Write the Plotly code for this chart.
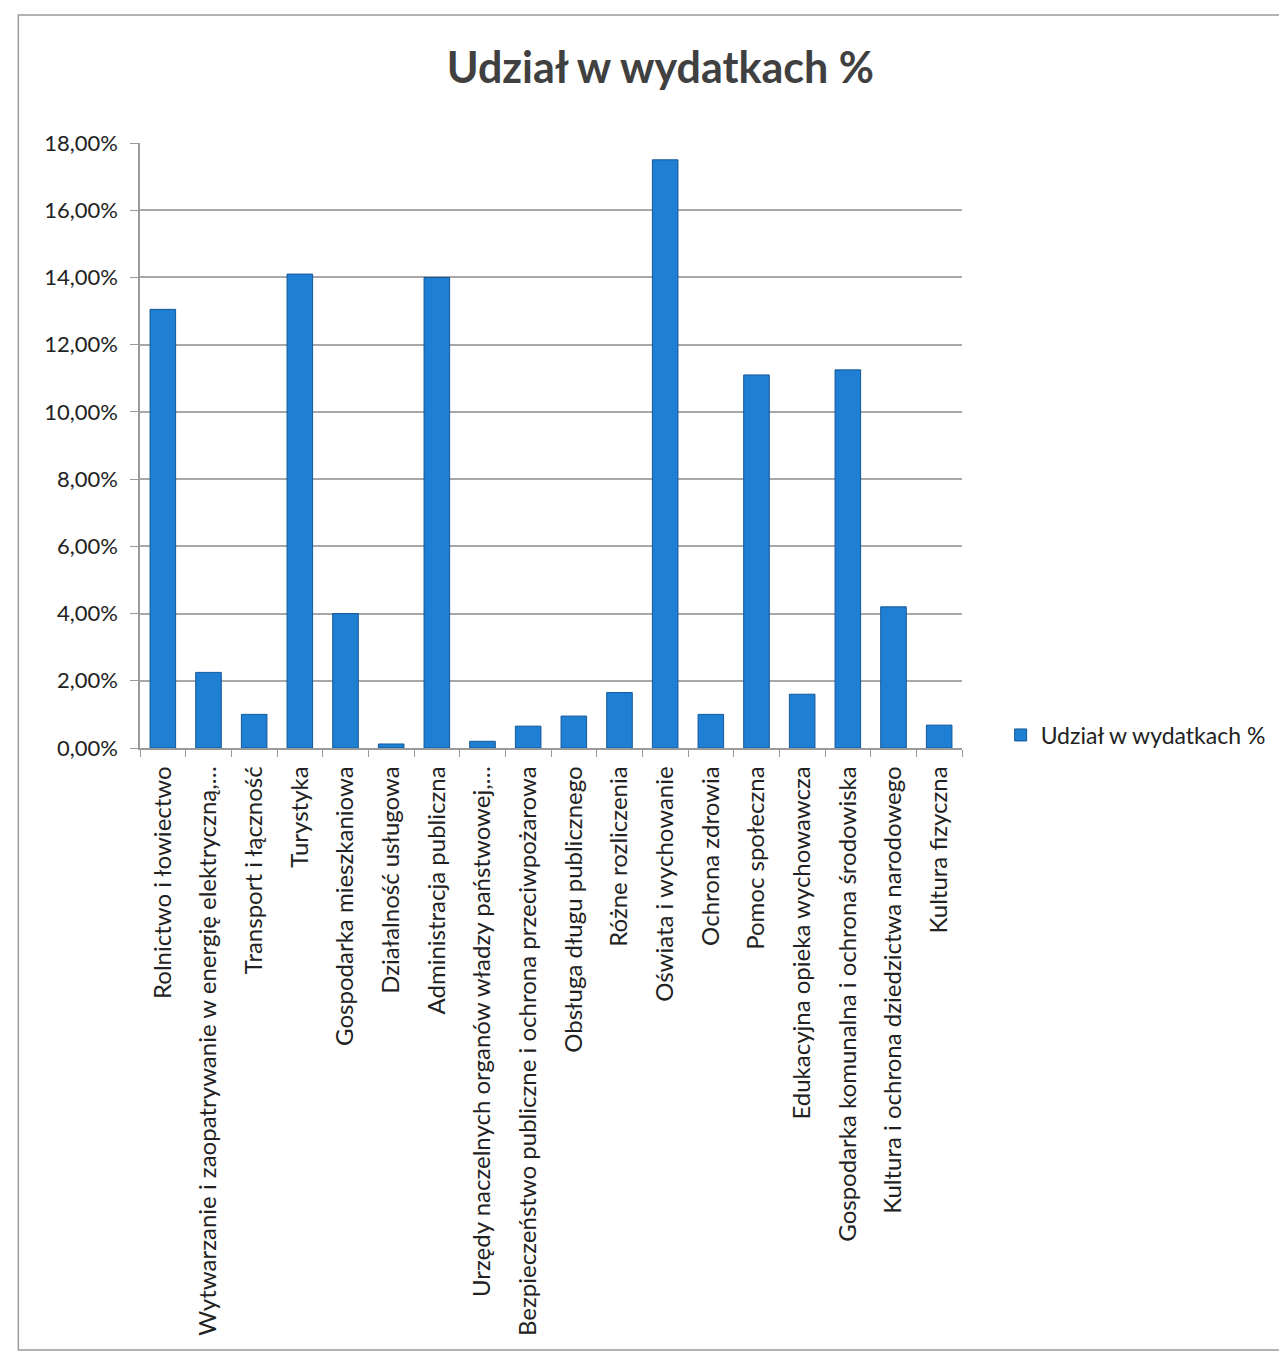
import plotly.graph_objects as go

categories = [
    "Rolnictwo i łowiectwo",
    "Wytwarzanie i zaopatrywanie w energię elektryczną,…",
    "Transport i łączność",
    "Turystyka",
    "Gospodarka mieszkaniowa",
    "Działalność usługowa",
    "Administracja publiczna",
    "Urzędy naczelnych organów władzy państwowej,…",
    "Bezpieczeństwo publiczne i ochrona przeciwpożarowa",
    "Obsługa długu publicznego",
    "Różne rozliczenia",
    "Oświata i wychowanie",
    "Ochrona zdrowia",
    "Pomoc społeczna",
    "Edukacyjna opieka wychowawcza",
    "Gospodarka komunalna i ochrona środowiska",
    "Kultura i ochrona dziedzictwa narodowego",
    "Kultura fizyczna",
]
values = [13.05, 2.25, 1.0, 14.1, 4.0, 0.12, 14.0, 0.2, 0.65, 0.95,
          1.65, 17.5, 1.0, 11.1, 1.6, 11.25, 4.2, 0.68]
series_name = "Udział w wydatkach %"
title_text = "Udział w wydatkach %"
y_ticks = [0, 2, 4, 6, 8, 10, 12, 14, 16, 18]
y_ticktext = ["0,00%", "2,00%", "4,00%", "6,00%", "8,00%", "10,00%",
              "12,00%", "14,00%", "16,00%", "18,00%"]

FONT = "Lato, 'Open Sans', sans-serif"

fig = go.Figure()
fig.add_trace(go.Bar(
    x=categories, y=values, name=series_name,
    marker=dict(color="#1f7fd2", line=dict(color="#13589a", width=1)),
    showlegend=True,
))

fig.update_layout(
    width=1279, height=1347,
    paper_bgcolor="white", plot_bgcolor="white",
    margin=dict(l=132, r=325, t=135, b=607),
    font=dict(family=FONT, size=22, color="#222222"),
    title=dict(text="<b>" + title_text + "</b>", xref="paper", x=0.633,
               xanchor="center", y=0.9555, yanchor="middle",
               font=dict(family=FONT, size=43, color="#404040")),
    bargap=0.44,
    showlegend=True,
    legend=dict(x=1.047, xanchor="left", y=0.0215, yanchor="middle",
                font=dict(family=FONT, size=23, color="#222222"),
                bgcolor="rgba(0,0,0,0)"),
    xaxis=dict(
        type="category", tickangle=-90, showgrid=False,
        showline=True, linecolor="#9a9a9a", linewidth=1.5,
        ticks="outside", tickson="boundaries", ticklen=7, tickcolor="#9a9a9a",
        tickfont=dict(family=FONT, size=24, color="#222222"),
        ticklabelstandoff=7,
        automargin=False,
    ),
    yaxis=dict(
        range=[0, 18], tickvals=y_ticks, ticktext=y_ticktext,
        showgrid=True, gridcolor="#a8a8a8", gridwidth=1.5,
        showline=True, linecolor="#9a9a9a", linewidth=1.5,
        ticks="outside", ticklen=8, tickcolor="#9a9a9a",
        tickfont=dict(family=FONT, size=22, color="#222222"),
        ticklabelstandoff=8,
        zeroline=False, automargin=False,
    ),
)

# outer chart border
fig.add_shape(type="rect", xref="paper", yref="paper",
              x0=-0.148, x1=1.393, y0=-0.995, y1=1.2116,
              line=dict(color="#9a9a9a", width=1.5), layer="below")

fig.write_html("out.html")
